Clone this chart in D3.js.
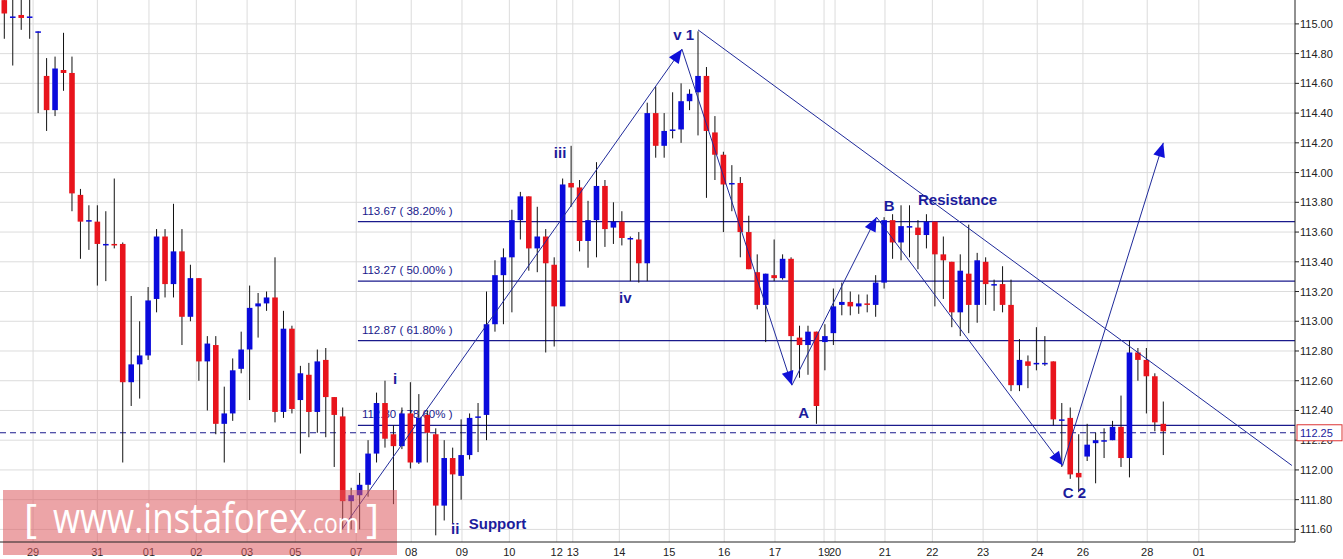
<!DOCTYPE html>
<html><head><meta charset="utf-8">
<script src="https://cdn.jsdelivr.net/npm/d3@7"></script>
<style>body{margin:0;background:#fff}svg{display:block}</style>
</head><body><svg id="c" width="1343" height="559"></svg>
<script>
// OHLC candles [open, high, low, close]
const candles = [
[115.16,115.3,114.9,115.07],[115.05,115.3,114.72,115.05],[115.06,115.2,114.96,115.04],[115.05,115.2,114.9,115.05],
[114.95,114.95,114.4,114.95],[114.65,114.77,114.28,114.42],[114.42,114.78,114.38,114.70],[114.69,114.94,114.55,114.67],
[114.67,114.78,113.74,113.86],[113.85,113.89,113.42,113.67],[113.68,113.78,113.48,113.68],[113.67,113.78,113.24,113.52],
[113.52,113.74,113.27,113.52],[113.52,113.96,113.49,113.51],[113.52,113.53,112.05,112.59],[112.59,113.17,112.43,112.71],
[112.71,113.0,112.48,112.77],[112.77,113.23,112.74,113.14],[113.15,113.62,113.06,113.57],[113.57,113.62,113.16,113.25],
[113.25,113.79,113.16,113.47],[113.47,113.62,112.84,113.03],[113.03,113.38,113.0,113.29],[113.29,113.29,112.6,112.73],
[112.73,112.9,112.4,112.85],[112.84,112.9,112.24,112.31],[112.31,112.56,112.05,112.38],[112.38,112.75,112.33,112.67],
[112.68,112.93,112.65,112.81],[112.81,113.24,112.47,113.09],[113.1,113.19,112.89,113.12],[113.12,113.2,113.07,113.16],
[113.16,113.43,112.32,112.39],[112.39,113.07,112.35,112.95],[112.95,112.97,112.38,112.41],[112.47,112.70,112.11,112.65],
[112.64,112.72,112.22,112.39],[112.39,112.81,112.25,112.73],[112.74,112.82,112.22,112.49],[112.49,112.49,112.02,112.37],
[112.36,112.42,111.6,111.79],[111.79,111.88,111.6,111.83],[111.83,111.98,111.6,111.9],[111.9,112.2,111.82,112.11],
[112.11,112.52,112.05,112.45],[112.45,112.6,112.15,112.21],[112.24,112.3,111.77,112.16],[112.16,112.42,112.14,112.38],
[112.38,112.59,112.01,112.05],[112.05,112.51,112.04,112.35],[112.37,112.4,112.05,112.25],[112.24,112.28,111.56,111.76],
[111.76,112.2,111.66,112.08],[112.08,112.15,111.64,111.97],[111.96,112.34,111.8,112.1],[112.1,112.38,112.07,112.35],
[112.36,112.45,112.12,112.36],[112.37,113.2,112.2,112.98],[112.98,113.41,112.93,113.31],[113.31,113.49,112.98,113.43],
[113.43,113.75,113.06,113.68],[113.68,113.87,113.55,113.84],[113.84,113.84,113.34,113.49],[113.49,113.77,113.33,113.57],
[113.57,113.62,112.79,113.39],[113.38,113.43,112.83,113.1],[113.1,113.96,113.2,113.92],[113.93,114.18,113.77,113.9],
[113.9,113.95,113.47,113.54],[113.54,113.81,113.36,113.68],[113.68,114.07,113.43,113.91],[113.91,113.95,113.5,113.62],
[113.63,113.8,113.52,113.67],[113.67,113.74,113.51,113.56],[113.56,113.57,113.27,113.56],[113.55,113.6,113.26,113.39],
[113.39,114.47,113.27,114.4],[114.4,114.58,114.1,114.18],[114.18,114.4,114.1,114.28],[114.29,114.54,114.23,114.29],
[114.29,114.6,114.2,114.48],[114.48,114.56,114.42,114.53],[114.54,114.95,114.25,114.65],[114.65,114.71,113.83,114.28],
[114.27,114.38,113.95,114.12],[114.12,114.14,113.6,113.92],[113.93,114.05,113.74,113.93],[113.93,113.97,113.43,113.6],
[113.6,113.71,113.35,113.35],[113.33,113.45,113.08,113.11],[113.11,113.32,112.86,113.32],[113.31,113.55,113.27,113.29],
[113.29,113.45,113.28,113.42],[113.42,113.43,112.6,112.9],[112.89,112.97,112.62,112.84],[112.84,112.97,112.64,112.93],
[112.93,112.93,112.31,112.43],[112.86,112.98,112.67,112.9],[112.92,113.22,112.84,113.1],[113.11,113.26,113.04,113.13],
[113.13,113.2,113.04,113.1],[113.1,113.18,113.05,113.12],[113.12,113.18,113.06,113.11],[113.11,113.31,113.03,113.26],
[113.26,113.7,113.22,113.68],[113.68,113.72,113.42,113.53],[113.53,113.78,113.41,113.64],[113.64,113.78,113.43,113.64],
[113.63,113.68,113.35,113.58],[113.58,113.72,113.49,113.67],[113.67,113.67,113.1,113.45],[113.45,113.57,113.15,113.41],
[113.4,113.4,112.96,113.06],[113.06,113.45,112.9,113.34],[113.32,113.65,112.92,113.11],[113.11,113.46,112.99,113.41],
[113.4,113.43,113.11,113.25],[113.25,113.28,113.07,113.25],[113.25,113.37,113.06,113.11],[113.11,113.28,112.53,112.57],
[112.57,112.88,112.53,112.74],[112.73,112.77,112.55,112.7],[112.71,112.96,112.67,112.72],[112.72,112.9,112.7,112.72],
[112.73,112.73,112.3,112.34],[112.34,112.45,112.02,112.34],[112.35,112.42,111.94,111.97],[111.98,112.24,111.85,111.95],
[112.09,112.31,112.06,112.17],[112.18,112.25,111.91,112.2],[112.2,112.28,112.08,112.2],[112.2,112.33,112.2,112.29],
[112.29,112.5,112.02,112.08],[112.08,112.87,111.95,112.79],[112.79,112.82,112.6,112.74],[112.74,112.82,112.38,112.63],
[112.63,112.65,112.26,112.32],[112.31,112.46,112.1,112.26]
];
const dateLabels = ["29","31","01","02","03","05","07","08","09","10","12","13","14","15","16","17","19","20","21","22","23","24","26","28","01"];
const datePos    = [3.4,11.0,17.1,22.7,28.7,34.4,41.6,48.1,54.1,59.7,65.3,67.2,72.7,78.6,85.1,91.1,96.9,98.2,104.1,109.7,115.7,122.1,127.5,135.1,141.2];
const priceTicks = [111.6,111.8,112.0,112.2,112.4,112.6,112.8,113.0,113.2,113.4,113.6,113.8,114.0,114.2,114.4,114.6,114.8,115.0];
const fibLevels = [113.67,113.27,112.87,112.30];
const fibLabels = ["113.67 ( 38.20% )","113.27 ( 50.00% )","112.87 ( 61.80% )","112.30 ( 78.60% )"];
const fibStart = 41.8;
const currentPrice = 112.25;
// wave path points [index, price]
const waves = [[39.9,111.6],[80.1,114.83],[93.1,112.57],[103.1,113.7],[125.1,112.03],[137,114.2]];
const resistance = [[82,114.96],[152.2,112.03]];
const labels = [["v 1",80.3,114.89,"middle"],["iii",65.7,114.1,"middle"],["iv",73.4,113.12,"middle"],["i",46.2,112.58,"middle"],
  ["ii",53.3,111.57,"middle"],["Support",54.9,111.6,"start"],["A",94.5,112.35,"middle"],["B",104.6,113.74,"middle"],
  ["Resistance",108,113.78,"start"],["C 2",126.5,111.81,"middle"]];

const svg = d3.select("#c");
const x = d3.scaleLinear().domain([0,137]).range([4.3,1163.3]);
const y = d3.scaleLinear().domain([111.6,115]).range([529.4,23.9]);
const R = 1295, B = 542;
svg.append("defs").append("clipPath").attr("id","pc").append("rect").attr("x",0).attr("y",0).attr("width",R).attr("height",B);
const g = svg.append("g").attr("clip-path","url(#pc)");
const F = "Liberation Sans, Arial";
g.selectAll(".hg").data(priceTicks).join("line").attr("x1",0).attr("x2",R).attr("y1",d=>y(d)).attr("y2",d=>y(d)).attr("stroke","#dcdcdc");
g.selectAll(".vg").data(datePos).join("line").attr("x1",d=>x(d)).attr("x2",d=>x(d)).attr("y1",0).attr("y2",B).attr("stroke","#dcdcdc");
g.selectAll(".fb").data(fibLevels).join("line").attr("x1",x(fibStart)).attr("x2",R).attr("y1",d=>y(d)).attr("y2",d=>y(d)).attr("stroke","#1a1a8c").attr("stroke-width",1.2);
g.selectAll(".fl").data(fibLabels).join("text").attr("x",x(fibStart)+4).attr("y",(d,i)=>y(fibLevels[i])-7)
 .attr("font-family",F).attr("font-size",11.5).attr("fill","#1a1a8c").text(d=>d);
g.append("line").attr("x1",0).attr("x2",R).attr("y1",y(currentPrice)).attr("y2",y(currentPrice)).attr("stroke","#1a1a8c").attr("stroke-dasharray","6,4");
const cg = g.append("g");
cg.selectAll("line").data(candles).join("line").attr("x1",(d,i)=>x(i)).attr("x2",(d,i)=>x(i)).attr("y1",d=>y(d[1])).attr("y2",d=>y(d[2])).attr("stroke","#111");
cg.selectAll("rect").data(candles).join("rect").attr("x",(d,i)=>x(i)-2.8).attr("width",5.6)
 .attr("y",d=>y(Math.max(d[0],d[3]))).attr("height",d=>Math.max(1.5,Math.abs(y(d[0])-y(d[3]))))
 .attr("fill",d=>d[3]>=d[0]?"#0a0adc":"#e8141c");
const ln = d3.line().x(d=>x(d[0])).y(d=>y(d[1]));
g.append("path").attr("d",ln(waves)).attr("fill","none").attr("stroke","#1f2a9a").attr("stroke-width",1);
g.append("path").attr("d",ln(resistance)).attr("fill","none").attr("stroke","#1f2a9a").attr("stroke-width",1);
for(let i=0;i<waves.length-1;i++){
  const a=[x(waves[i][0]),y(waves[i][1])], b=[x(waves[i+1][0]),y(waves[i+1][1])];
  const ang=Math.atan2(b[1]-a[1],b[0]-a[0]), L=14, W=6;
  const p=[b,[b[0]-L*Math.cos(ang)+W*Math.sin(ang),b[1]-L*Math.sin(ang)-W*Math.cos(ang)],[b[0]-L*Math.cos(ang)-W*Math.sin(ang),b[1]-L*Math.sin(ang)+W*Math.cos(ang)]];
  g.append("polygon").attr("points",p.map(q=>q.join(",")).join(" ")).attr("fill","#1010d8");
}
g.selectAll(".lb").data(labels).join("text").attr("x",d=>x(d[1])).attr("y",d=>y(d[2])).attr("text-anchor",d=>d[3])
 .attr("font-family",F).attr("font-weight","bold").attr("font-size",15).attr("fill","#1c1c9c").text(d=>d[0]);
svg.selectAll(".xl").data(dateLabels).join("text").attr("x",(d,i)=>x(datePos[i])).attr("y",556).attr("text-anchor","middle").attr("font-family",F).attr("font-size",11).attr("fill","#222").text(d=>d);
svg.append("rect").attr("x",3).attr("y",490).attr("width",394).attr("height",65).attr("fill","rgba(220,90,95,0.55)");
const WF = "Open Sans, Liberation Sans";
svg.append("text").attr("x",24).attr("y",533).attr("fill","#fff").attr("font-family",WF).attr("font-size",40).text("[");
svg.append("text").attr("x",53).attr("y",533).attr("fill","#fff").attr("font-family",WF).attr("font-size",42).attr("textLength",254).attr("lengthAdjust","spacingAndGlyphs").text("www.instaforex");
svg.append("text").attr("x",307).attr("y",533).attr("fill","#fff").attr("font-family",WF).attr("font-size",28).attr("textLength",52).attr("lengthAdjust","spacingAndGlyphs").text(".com");
svg.append("text").attr("x",366).attr("y",533).attr("fill","#fff").attr("font-family",WF).attr("font-size",40).text("]");
svg.append("line").attr("x1",R).attr("x2",R).attr("y1",0).attr("y2",B).attr("stroke","#222");
svg.append("line").attr("x1",0).attr("x2",R).attr("y1",B).attr("y2",B).attr("stroke","#222");
svg.selectAll(".yt").data(priceTicks).join("line").attr("x1",R).attr("x2",R+4).attr("y1",d=>y(d)).attr("y2",d=>y(d)).attr("stroke","#222");
svg.selectAll(".yl").data(priceTicks).join("text").attr("x",R+5).attr("y",d=>y(d)+4).attr("font-family",F).attr("font-size",11).attr("fill","#222").text(d=>d.toFixed(2));
svg.append("rect").attr("x",R+2).attr("y",y(currentPrice)-8).attr("width",45).attr("height",16).attr("fill","#fff").attr("stroke","#d33");
svg.append("text").attr("x",R+5).attr("y",y(currentPrice)+4).attr("font-family",F).attr("font-size",11).attr("fill","#1c1c9c").text(currentPrice.toFixed(2));
</script></body></html>
